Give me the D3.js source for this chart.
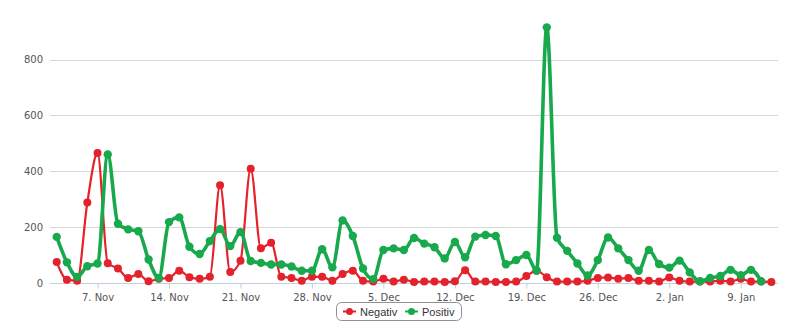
<!DOCTYPE html>
<html>
<head>
<meta charset="utf-8">
<script src="https://cdn.jsdelivr.net/npm/d3@7"></script>
<style>
  html, body { margin: 0; padding: 0; background: #fff; }
  svg { display: block; font-family: "DejaVu Sans", Verdana, sans-serif; }
</style>
</head>
<body>
<svg id="chart" width="790" height="335"></svg>
<script>
// ---- data ----
const startDate = "2013-11-03";
const seriesNames = ["Negativ", "Positiv"];
const seriesColors = ["#e3222c", "#17a94b"];
const negativ = [75, 12, 8, 288, 465, 71, 52, 18, 32, 6, 15, 18, 44, 21, 15, 22, 350, 39, 80, 409,
  124, 144, 22, 18, 8, 22, 22, 8, 32, 44, 8, 5, 15, 5, 12, 4, 5, 5, 4, 6,
  46, 5, 5, 4, 4, 5, 25, 44, 21, 5, 5, 5, 8, 18, 20, 15, 18, 8, 8, 5,
  20, 8, 5, 5, 5, 8, 5, 15, 5, 5, 4];
const positiv = [165, 74, 22, 60, 70, 460, 212, 192, 185, 84, 18, 218, 235, 130, 104, 150, 193, 132, 182, 79,
  72, 66, 66, 59, 44, 44, 121, 56, 224, 168, 52, 14, 118, 124, 118, 161, 141, 128, 88, 147,
  92, 166, 172, 168, 67, 82, 100, 45, 915, 162, 115, 70, 27, 82, 163, 124, 82, 44, 118, 68,
  55, 80, 38, 6, 18, 25, 47, 28, 47, 6];
const yTicks = [0, 200, 400, 600, 800];
const xTickLabels = ["7. Nov", "14. Nov", "21. Nov", "28. Nov", "5. Dec", "12. Dec", "19. Dec", "26. Dec", "2. Jan", "9. Jan"];
const xTickDates = ["2013-11-07", "2013-11-14", "2013-11-21", "2013-11-28", "2013-12-05", "2013-12-12", "2013-12-19", "2013-12-26", "2014-01-02", "2014-01-09"];

// ---- layout ----
const svg = d3.select("#chart");
const plotLeft = 50, plotRight = 778, plotBottom = 283;
const parse = d3.utcParse("%Y-%m-%d");
const d0 = parse(startDate);
const dayMs = 86400000;
const dateOf = i => new Date(d0.getTime() + i * dayMs);

const x = d3.scaleUtc()
  .domain([d0, dateOf(70)])
  .range([56.7, 771.4]);
const y = d3.scaleLinear().domain([0, 800]).range([plotBottom, 59.5]);

// grid
svg.append("g").selectAll("line").data(yTicks).join("line")
  .attr("x1", plotLeft).attr("x2", plotRight)
  .attr("y1", d => Math.round(y(d)) + 0.5).attr("y2", d => Math.round(y(d)) + 0.5)
  .attr("stroke", "#d6d6d6").attr("stroke-width", 1);

// y labels
svg.append("g").selectAll("text").data(yTicks).join("text")
  .attr("x", 43).attr("y", d => y(d) + 3.5)
  .attr("text-anchor", "end")
  .attr("font-size", 10).attr("fill", "#555")
  .text(d => d);

// x axis
const xAxis = d3.axisBottom(x)
  .tickValues(xTickDates.map(parse))
  .tickFormat((d, i) => xTickLabels[i])
  .tickSize(5).tickSizeOuter(0);
const gx = svg.append("g").attr("transform", `translate(0,${Math.round(y(0)) + 0.5})`).call(xAxis);
gx.select(".domain").attr("stroke", "#c0d0e0").attr("d", `M${plotLeft},0H${plotRight}`);
gx.selectAll(".tick line").attr("stroke", "#c0d0e0");
gx.selectAll(".tick text").attr("font-size", 10).attr("fill", "#555").attr("dy", "0.95em")
  .attr("font-family", "DejaVu Sans, Verdana, sans-serif");

// series
const allSeries = [negativ, positiv];
const widths = [2.2, 3.6];
const radii = [4, 4.2];
const line = d3.line().x((d, i) => x(dateOf(i))).y(d => y(d)).curve(d3.curveMonotoneX);

allSeries.forEach((vals, s) => {
  const g = svg.append("g");
  g.append("path").datum(vals)
    .attr("d", line)
    .attr("fill", "none")
    .attr("stroke", seriesColors[s])
    .attr("stroke-width", widths[s])
    .attr("stroke-linejoin", "round");
  g.selectAll("circle").data(vals).join("circle")
    .attr("cx", (d, i) => x(dateOf(i)))
    .attr("cy", d => y(d))
    .attr("r", radii[s])
    .attr("fill", seriesColors[s]);
});

// legend
const lg = svg.append("g").attr("font-family", "Liberation Sans, Arial, sans-serif");
lg.append("rect").attr("x", 336.5).attr("y", 302.5).attr("width", 125).attr("height", 18)
  .attr("rx", 5).attr("fill", "#fff").attr("stroke", "#909090").attr("stroke-width", 1);
const legendItems = [{x: 343, tx: 360}, {x: 405, tx: 422}];
seriesNames.forEach((name, s) => {
  const it = legendItems[s];
  lg.append("line").attr("x1", it.x).attr("x2", it.x + 13).attr("y1", 311.5).attr("y2", 311.5)
    .attr("stroke", seriesColors[s]).attr("stroke-width", 2);
  lg.append("circle").attr("cx", it.x + 6.5).attr("cy", 311.5).attr("r", 3.5).attr("fill", seriesColors[s]);
  lg.append("text").attr("x", it.tx).attr("y", 315.5).attr("font-size", 11).attr("fill", "#333").text(name);
});
</script>
</body>
</html>
